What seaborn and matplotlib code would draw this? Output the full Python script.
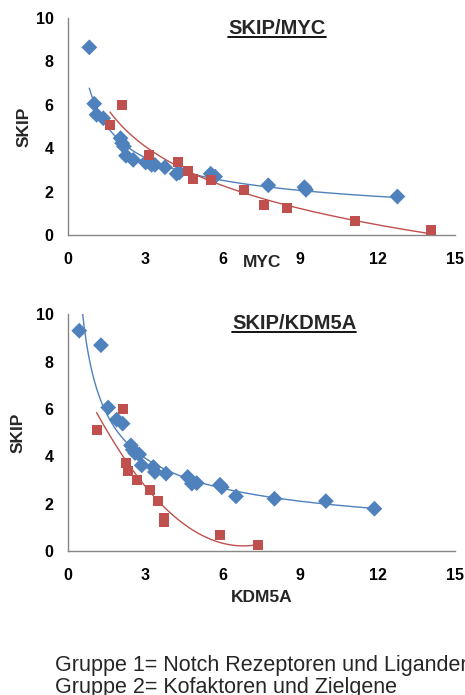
import numpy as np
import pandas as pd
import matplotlib
matplotlib.use("Agg")
import matplotlib.pyplot as plt
import seaborn as sns

# SKIP vs MYC
myc_g1 = [0.83, 1.02, 1.11, 1.37, 2.04, 2.10, 2.17, 2.25, 2.53, 3.01, 3.24, 3.37,
          3.76, 4.21, 4.32, 5.53, 5.70, 7.76, 9.16, 9.22, 12.76]
skip_myc_g1 = [8.65, 6.05, 5.54, 5.38, 4.46, 4.23, 4.08, 3.65, 3.46, 3.34, 3.23, 3.23,
               3.12, 2.82, 2.88, 2.82, 2.69, 2.29, 2.20, 2.08, 1.77]
myc_g2 = [1.63, 2.08, 3.14, 4.25, 4.64, 4.86, 5.53, 6.83, 7.61, 8.50, 11.12, 14.07]
skip_myc_g2 = [5.06, 5.98, 3.69, 3.34, 2.97, 2.58, 2.54, 2.08, 1.38, 1.22, 0.66, 0.23]

# SKIP vs KDM5A
kdm_g1 = [0.44, 1.28, 1.56, 1.89, 2.12, 2.44, 2.51, 2.60, 2.76, 2.86, 3.31, 3.37,
          3.80, 4.64, 4.80, 4.99, 5.89, 5.96, 6.51, 8.00, 9.99, 11.87]
skip_kdm_g1 = [9.30, 8.69, 6.06, 5.55, 5.38, 4.46, 4.28, 4.14, 4.08, 3.62, 3.55, 3.34,
               3.27, 3.13, 2.85, 2.87, 2.80, 2.70, 2.31, 2.21, 2.11, 1.79]
kdm_g2 = [1.11, 2.14, 2.25, 2.34, 2.69, 3.18, 3.50, 3.72, 3.72, 5.89, 7.38]
skip_kdm_g2 = [5.10, 6.01, 3.72, 3.37, 3.01, 2.59, 2.11, 1.41, 1.23, 0.69, 0.24]

x_ticks = [0, 3, 6, 9, 12, 15]
y_ticks = [0, 2, 4, 6, 8, 10]

BLUE = "#4F81BD"
RED = "#C0504D"
SPINE = "#868686"

sns.set_theme(style="white")
plt.rcParams["font.family"] = ["Liberation Sans", "DejaVu Sans"]


def power_trend(x, y):
    b, a = np.polyfit(np.log(x), np.log(y), 1)
    xs = np.linspace(min(x), max(x), 300)
    return xs, np.exp(a) * xs ** b


def log_trend(x, y):
    b, a = np.polyfit(np.log(x), y, 1)
    xs = np.linspace(min(x), max(x), 300)
    return xs, a + b * np.log(xs)


def poly2_trend(x, y):
    c = np.polyfit(x, y, 2)
    xs = np.linspace(min(x), max(x), 300)
    return xs, np.polyval(c, xs)


def panel(ax, x1, y1, x2, y2, trend1, trend2, title, xlabel, title_xy, xlabel_y,
          ylabel_pad):
    tx, ty = trend1(np.array(x1), np.array(y1))
    sns.lineplot(x=tx, y=ty, ax=ax, color=BLUE, lw=1.0, zorder=2)
    tx, ty = trend2(np.array(x2), np.array(y2))
    sns.lineplot(x=tx, y=ty, ax=ax, color=RED, lw=1.0, zorder=2)
    sns.scatterplot(x=x1, y=y1, ax=ax, marker="D", s=65, color=BLUE,
                    edgecolor="none", zorder=3)
    sns.scatterplot(x=x2, y=y2, ax=ax, marker="s", s=52, color=RED,
                    edgecolor="none", zorder=3)
    ax.set_xlim(0, 15)
    ax.set_ylim(0, 10)
    ax.set_xticks(x_ticks)
    ax.set_yticks(y_ticks)
    ax.set_xticklabels([str(t) for t in x_ticks], fontweight="bold", fontsize=11.5)
    ax.set_yticklabels([str(t) for t in y_ticks], fontweight="bold", fontsize=11.5)
    ax.tick_params(axis="both", direction="out", length=4.3, width=1, color=SPINE,
                   labelcolor="black")
    ax.tick_params(axis="y", pad=6)
    ax.tick_params(axis="x", pad=8)
    for side in ("top", "right"):
        ax.spines[side].set_visible(False)
    for side in ("left", "bottom"):
        ax.spines[side].set_color(SPINE)
        ax.spines[side].set_linewidth(1)
    ax.set_xlabel("")
    ax.set_ylabel("SKIP", fontweight="bold", fontsize=12.5, labelpad=ylabel_pad)
    ax.text(title_xy[0], title_xy[1], title, transform=ax.transAxes,
            ha="center", va="center", fontsize=14.5, fontweight="bold")
    # underline beneath the title
    fig = ax.figure
    fig.canvas.draw()
    t = ax.texts[-1]
    bb = t.get_window_extent().transformed(fig.transFigure.inverted())
    fig.add_artist(plt.Line2D([bb.x0, bb.x1], [bb.y0 + 0.001, bb.y0 + 0.001],
                              transform=fig.transFigure, color="black", lw=1.3))
    ax.text(0.5, xlabel_y, xlabel, transform=ax.transAxes, ha="center", va="center",
            fontsize=12.5, fontweight="bold")


fig = plt.figure(figsize=(4.65, 6.95), dpi=100)
ax1 = fig.add_axes([0.146, 0.662, 0.833, 0.312])
ax2 = fig.add_axes([0.146, 0.207, 0.833, 0.341])

panel(ax1, myc_g1, skip_myc_g1, myc_g2, skip_myc_g2, power_trend, log_trend,
      "SKIP/MYC", "MYC", (0.54, 0.954), -0.129, 3)
panel(ax2, kdm_g1, skip_kdm_g1, kdm_g2, skip_kdm_g2, power_trend, poly2_trend,
      "SKIP/KDM5A", "KDM5A", (0.584, 0.962), -0.194, 7)

fig.text(55 / 465, 1 - 665 / 695, "Gruppe 1= Notch Rezeptoren und Liganden",
         ha="left", va="center", fontsize=15.5)
fig.text(55 / 465, 1 - 688 / 695, "Gruppe 2= Kofaktoren und Zielgene",
         ha="left", va="center", fontsize=15.5)

fig.savefig("out.png", dpi=100)
